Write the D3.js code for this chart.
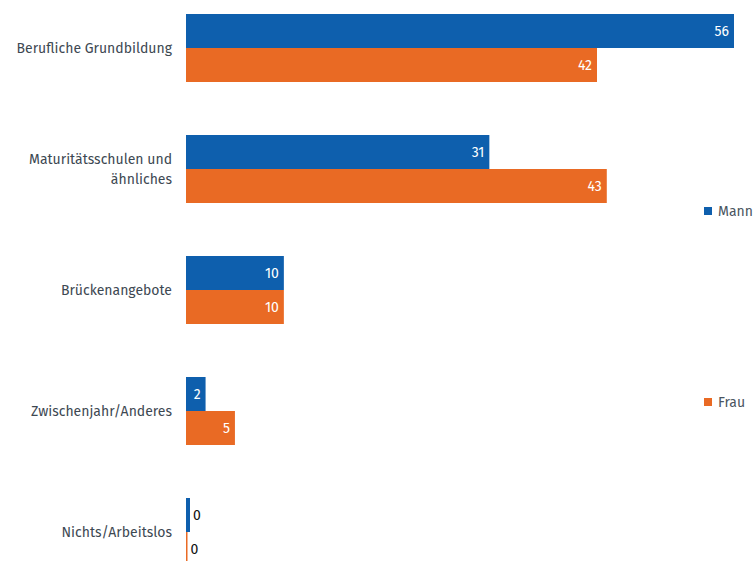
<!DOCTYPE html>
<html>
<head>
<meta charset="utf-8">
<script src="https://cdn.jsdelivr.net/npm/d3@7"></script>
<style>
  html, body { margin: 0; padding: 0; background: #fff; }
  svg { display: block; font-family: "Fira Sans", Roboto, "Noto Sans", sans-serif; }
</style>
</head>
<body>
<svg id="chart" width="755" height="561"></svg>
<script>
// Categories (each may wrap onto two lines)
const categories = [
  ["Berufliche Grundbildung"],
  ["Maturitätsschulen und", "ähnliches"],
  ["Brückenangebote"],
  ["Zwischenjahr/Anderes"],
  ["Nichts/Arbeitslos"]
];
const seriesNames = ["Mann", "Frau"];
const mannValues = [56, 31, 10, 2, 0];
const frauValues = [42, 43, 10, 5, 0];
const seriesColors = ["#0e5fad", "#e96a24"];

const svg = d3.select("#chart");
const keys = categories.map(c => c.join(" "));

const x = d3.scaleLinear().domain([0, 56]).range([186, 734]);
const y = d3.scaleBand().domain(keys).range([-12.5, 592.5])
  .paddingInner(0.438).paddingOuter(0.219);
const ySub = d3.scaleBand().domain(seriesNames).range([0, y.bandwidth()]);

const rows = keys.map((k, i) => ({ key: k, lines: categories[i], values: [mannValues[i], frauValues[i]] }));

// Category labels
const catG = svg.append("g");
rows.forEach(r => {
  const cy = y(r.key) + y.bandwidth() / 2;
  const t = catG.append("text")
    .attr("x", 172)
    .attr("text-anchor", "end")
    .attr("fill", "#3d4852")
    .attr("font-size", 14);
  const lh = 20;
  const y0 = cy - (r.lines.length - 1) * lh / 2;
  r.lines.forEach((ln, j) => {
    t.append("tspan").attr("x", 172).attr("y", y0 + j * lh).attr("dy", "0.35em").text(ln);
  });
});

// Bars
const groups = svg.append("g").selectAll("g").data(rows).join("g")
  .attr("transform", d => `translate(0,${y(d.key)})`);

groups.each(function (d) {
  const g = d3.select(this);
  d.values.forEach((v, i) => {
    const s = seriesNames[i];
    const w = Math.max(x(v) - x(0), i === 0 ? 4 : 1.5);
    g.append("rect")
      .attr("x", x(0))
      .attr("y", ySub(s))
      .attr("width", w)
      .attr("height", ySub.bandwidth())
      .attr("fill", seriesColors[i]);
    const inside = v >= 2;
    g.append("text")
      .attr("x", inside ? x(v) - 5 : x(0) + w + 3)
      .attr("y", ySub(s) + ySub.bandwidth() / 2)
      .attr("dy", "0.35em")
      .attr("text-anchor", inside ? "end" : "start")
      .attr("fill", inside ? "#ffffff" : "#111111")
      .attr("font-size", 14)
      .text(d3.format("d")(v));
  });
});

// Legend
const legendY = [211, 402];
seriesNames.forEach((s, i) => {
  const lg = svg.append("g").attr("transform", `translate(704,${legendY[i]})`);
  lg.append("rect").attr("x", 0).attr("y", -4).attr("width", 8).attr("height", 8).attr("fill", seriesColors[i]);
  lg.append("text").attr("x", 14).attr("y", 0).attr("dy", "0.35em")
    .attr("fill", "#4a5560").attr("font-size", 14).text(s);
});
</script>
</body>
</html>
